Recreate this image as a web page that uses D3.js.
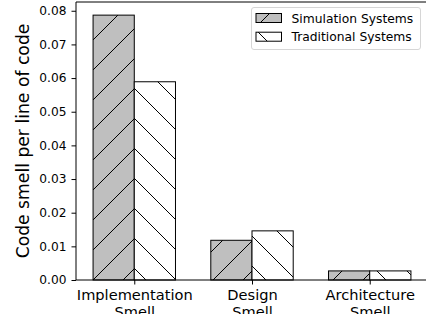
<!DOCTYPE html>
<html>
<head>
<meta charset="utf-8">
<script src="https://cdn.jsdelivr.net/npm/d3@7"></script>
<style>
  body { margin: 0; background: #fff; }
  svg { display: block; font-family: "DejaVu Sans", sans-serif; }
</style>
</head>
<body>
<svg width="426" height="314"></svg>
<script>
// data
var categories = [["Implementation", "Smell"], ["Design", "Smell"], ["Architecture", "Smell"]];
var simValues = [0.0787, 0.0118, 0.0027];
var tradValues = [0.0589, 0.0146, 0.0027];
var yTicks = [0, 0.01, 0.02, 0.03, 0.04, 0.05, 0.06, 0.07, 0.08];
var seriesNames = ["Simulation Systems", "Traditional Systems"];

var svg = d3.select("svg");
var axLeft = 76, axRight = 428, axTop = 2, axBottom = 280;
var barW = 0.35;

var x = d3.scaleLinear().domain([-0.495, 2.495]).range([axLeft, axRight]);
var y = d3.scaleLinear().domain([0, 0.0826]).range([axBottom, axTop]);

// hatch patterns (period 30px, anchored like matplotlib)
var defs = svg.append("defs");
var p1 = defs.append("pattern").attr("id", "fwd").attr("patternUnits", "userSpaceOnUse")
    .attr("width", 30).attr("height", 30).attr("x", 13).attr("y", 0);
p1.append("rect").attr("width", 30).attr("height", 30).attr("fill", "#bfbfbf");
p1.append("path").attr("d", "M0,30L30,0M-5,5L5,-5M25,35L35,25")
    .attr("stroke", "#000").attr("stroke-width", 1);
var p2 = defs.append("pattern").attr("id", "back").attr("patternUnits", "userSpaceOnUse")
    .attr("width", 30).attr("height", 30).attr("x", 16).attr("y", 0);
p2.append("rect").attr("width", 30).attr("height", 30).attr("fill", "#fff");
p2.append("path").attr("d", "M0,0L30,30M-5,25L5,35M25,-5L35,5")
    .attr("stroke", "#000").attr("stroke-width", 1);

//バー
var series = [
  {name: seriesNames[0], values: simValues, fill: "url(#fwd)", off: -barW},
  {name: seriesNames[1], values: tradValues, fill: "url(#back)", off: 0}
];
series.forEach(function(s) {
  svg.append("g").selectAll("rect")
    .data(s.values)
    .enter()
    .append("rect")
    .attr("x", function(d, i) { return x(i + s.off); })
    .attr("width", function(d, i) { return x(i + s.off + barW) - x(i + s.off); })
    .attr("y", function(d) { return y(d); })
    .attr("height", function(d) { return y(0) - y(d); })
    .attr("fill", s.fill)
    .attr("stroke", "#000")
    .attr("stroke-width", 1);
});

// spines
svg.append("line").attr("x1", axLeft).attr("x2", axLeft).attr("y1", axTop).attr("y2", axBottom)
  .attr("stroke", "#000");
svg.append("line").attr("x1", axLeft).attr("x2", axRight).attr("y1", axTop).attr("y2", axTop)
  .attr("stroke", "#000");
svg.append("line").attr("x1", axLeft).attr("x2", axRight).attr("y1", axBottom).attr("y2", axBottom)
  .attr("stroke", "#000");

// y axis
var yAxis = svg.append("g")
  .attr("transform", "translate(" + axLeft + ",0)")
  .call(d3.axisLeft(y).tickValues(yTicks).tickFormat(d3.format(".2f")).tickSize(4.5).tickPadding(5));
yAxis.select(".domain").remove();
yAxis.selectAll("text").attr("font-size", 12.2).attr("fill", "#000").attr("font-family", "DejaVu Sans");

// x axis
var xAxis = svg.append("g")
  .attr("transform", "translate(0," + axBottom + ")")
  .call(d3.axisBottom(x).tickValues([0, 1, 2]).tickSize(4.5).tickFormat(""));
xAxis.select(".domain").remove();
xAxis.selectAll(".tick").each(function(d, i) {
  var t = d3.select(this).append("text")
    .attr("fill", "#000")
    .attr("font-size", 14.6)
    .attr("font-family", "DejaVu Sans")
    .attr("text-anchor", "middle")
    .attr("y", 19.5);
  categories[i].forEach(function(line, k) {
    t.append("tspan").attr("x", 0).attr("dy", k === 0 ? 0 : 17).text(line);
  });
});

// y label
svg.append("text")
  .attr("transform", "translate(29,141) rotate(-90)")
  .attr("text-anchor", "middle")
  .attr("font-size", 17.2)
  .text("Code smell per line of code");

// legend
var lg = svg.append("g");
lg.append("rect").attr("x", 251.5).attr("y", 7.5).attr("width", 169).attr("height", 42)
  .attr("rx", 2.5).attr("fill", "#fff").attr("fill-opacity", 0.8)
  .attr("stroke", "#d6d6d6").attr("stroke-width", 1);
series.forEach(function(s, i) {
  var yy = 13.5 + i * 18.7;
  lg.append("rect").attr("x", 256).attr("y", yy).attr("width", 25.5).attr("height", 9)
    .attr("fill", s.fill).attr("stroke", "#000").attr("stroke-width", 1);
  lg.append("text").attr("x", 291.5).attr("y", yy + 9).attr("font-size", 12.3)
    .text(s.name);
});
</script>
</body>
</html>
